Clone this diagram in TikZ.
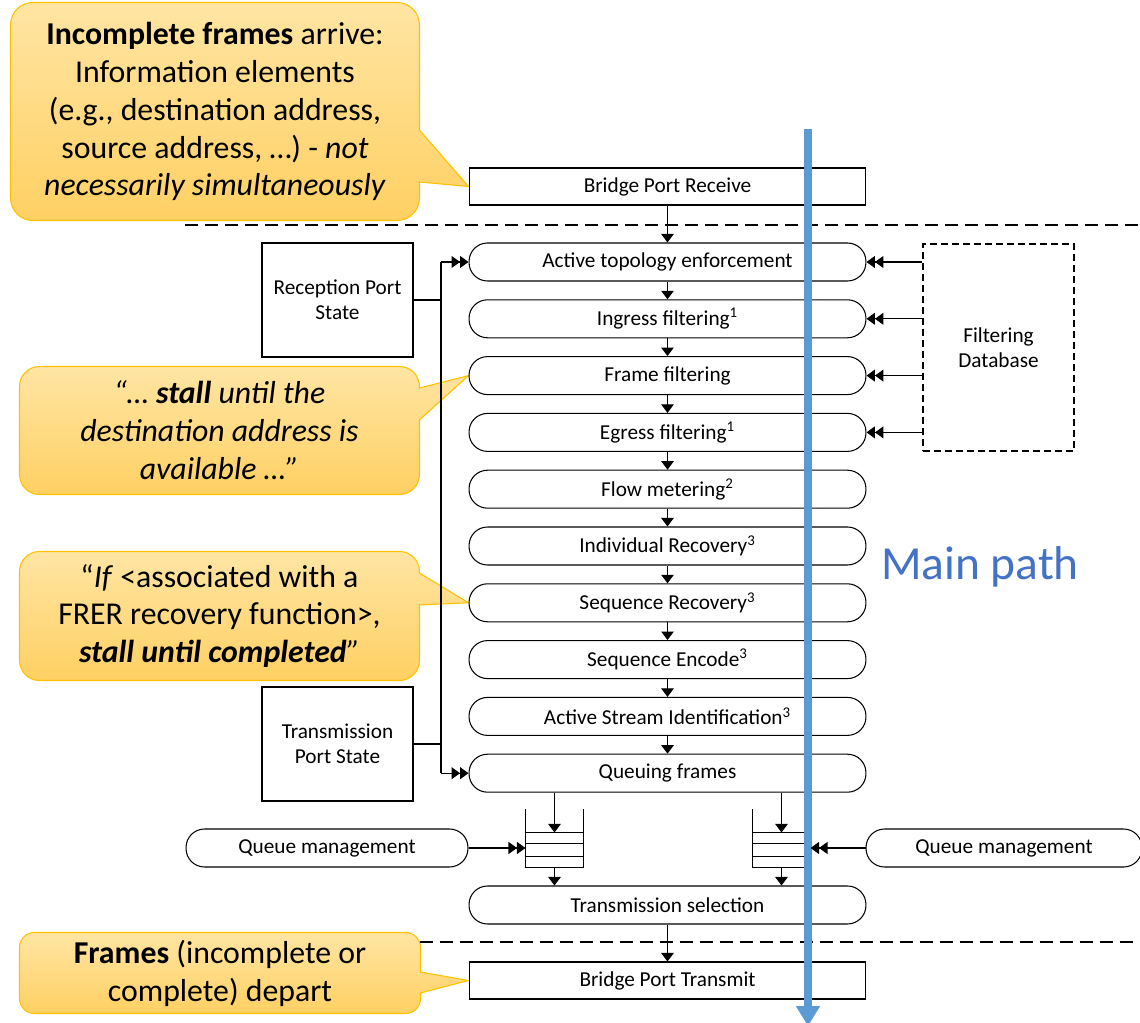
\documentclass[tikz,border=0pt]{standalone}
\usepackage{fontspec}
\setmainfont{Carlito}
\usetikzlibrary{arrows.meta,calc}
\pgfdeclarelayer{background}
\pgfsetlayers{background,main}

\definecolor{callouttop}{HTML}{FFE5A3}
\definecolor{calloutbot}{HTML}{FFD063}
\definecolor{calloutline}{HTML}{FFC000}
\definecolor{pathblue}{HTML}{5B9BD5}
\definecolor{pathtext}{HTML}{4472C4}

\newcommand{\boxfont}{\fontsize{12.1}{14.4}\selectfont}
\newcommand{\notefont}{\fontsize{18.1}{21.6}\selectfont}

\tikzstyle{procbox}=[draw, rounded corners=3.7mm, minimum width=79.4mm, minimum height=7.6mm, inner sep=0pt, font=\boxfont]
\tikzstyle{portbox}=[draw, minimum width=79.4mm, minimum height=7.4mm, inner sep=0pt, font=\boxfont]
\tikzstyle{statebox}=[draw, minimum width=30.2mm, minimum height=22.8mm, inner sep=0pt, align=center, font=\boxfont]
\tikzstyle{qmbox}=[procbox, minimum width=56.4mm]
\tikzstyle{queue}=[minimum width=11.4mm, minimum height=6.8mm, inner sep=0pt]
\tikzstyle{queueline}=[draw=black, line width=0.8pt]
\tikzstyle{note}=[align=center, font=\notefont, inner sep=0pt]
\tikzstyle{notebody}=[draw=calloutline, line width=0.6pt, top color=callouttop, bottom color=calloutbot]
\tikzstyle{arrow}=[draw=black, -{Triangle[length=1.7mm,width=2.5mm]}]
\tikzstyle{dblarrow}=[draw=black, -{Triangle[length=1.7mm,width=2.4mm]Triangle[length=1.7mm,width=2.4mm]}]
\tikzstyle{cutline}=[draw=black, line width=0.8pt, dash pattern=on 2.6mm off 1.4mm]
\tikzstyle{mainpath}=[draw=pathblue, line width=4pt, -{Triangle[length=4mm,width=4.6mm]}]

\begin{document}
\begin{tikzpicture}[x=0.02cm, y=-0.02cm, line width=0.6pt]
	\useasboundingbox (0,0) rectangle (1140,1023);
	\begin{scope}
		% main chain
		\node (rx) at (667.5,186.5) [portbox] {Bridge Port Receive};
		\node (ate) at (667.5,262) [procbox] {Active topology enforcement};
		\node (ingr) at (667.5,318.8) [procbox] {Ingress filtering\textsuperscript{1}};
		\node (ff) at (667.5,375.6) [procbox] {Frame filtering};
		\node (egr) at (667.5,432.4) [procbox] {Egress filtering\textsuperscript{1}};
		\node (fm) at (667.5,489.2) [procbox] {Flow metering\textsuperscript{2}};
		\node (ir) at (667.5,546) [procbox] {Individual Recovery\textsuperscript{3}};
		\node (sr) at (667.5,602.8) [procbox] {Sequence Recovery\textsuperscript{3}};
		\node (se) at (667.5,659.6) [procbox] {Sequence Encode\textsuperscript{3}};
		\node (asi) at (667.5,716.4) [procbox] {Active Stream Identification\textsuperscript{3}};
		\node (qf) at (667.5,773.2) [procbox] {Queuing frames};
		\node (ts) at (667.5,905) [procbox] {Transmission selection};
		\node (tx) at (667.5,980.5) [portbox] {Bridge Port Transmit};

		\node (rps) at (337.5,300) [statebox] {Reception Port\\State};
		\node (tps) at (337.5,744) [statebox] {Transmission\\Port State};
		\node (fdb) at (998.5,347.5) [statebox, minimum height=41.4mm, dash pattern=on 1.4mm off 0.8mm] {Filtering\\Database};

		\node (qm1) at (327,848) [qmbox] {Queue management};
		\node (qm2) at (1004,848) [qmbox, minimum width=55.2mm] {Queue management};
		\node (q1) at (554.5,850) [queue] {};
		\node (q2) at (781.5,850) [queue] {};

		\node (mp) at (980,567) [text=pathtext, font=\fontsize{27}{32}\selectfont] {Main path};

		% callouts
		\node (n1) at (215,111.5) [note, minimum width=81.6mm, minimum height=43.4mm] {\textbf{Incomplete frames} arrive:\\Information elements\\(e.g., destination address,\\source address, …) - \textit{not}\\\textit{necessarily simultaneously}};
		\node (n2) at (219.5,430.5) [note, minimum width=79.8mm, minimum height=25.4mm, font=\notefont\itshape] {“… \textbf{stall} until the\\destination address is\\available …”};
		\node (n3) at (219.5,616) [note, minimum width=79.8mm, minimum height=25.6mm] {“\textit{If} <associated with a\\FRER recovery function>,\\\textit{\textbf{stall until completed}”}};
		\node (n4) at (220,973) [note, minimum width=80mm, minimum height=16mm] {\textbf{Frames} (incomplete or\\complete) depart};

		\coordinate (bt) at (441,262);
		\coordinate (bb) at (441,773.2);
		\coordinate (mtop) at (808,129);
		\coordinate (mbot) at (808,1026);
	\end{scope}
	\begin{scope}
		\draw[cutline] (185,225) -- (1140,225);
		\draw[cutline] (420,942) -- (1140,942);

		\foreach \a/\b in {rx/ate,ate/ingr,ingr/ff,ff/egr,egr/fm,fm/ir,ir/sr,sr/se,se/asi,asi/qf,ts/tx}
			\path [arrow] (\a) edge (\b);

		\draw (bt) -- (bb);
		\draw (rps.east) -- (rps.east -| bt);
		\draw (tps.east) -- (tps.east -| bb);
		\draw[dblarrow] (bt) -- (ate.west);
		\draw[dblarrow] (bb) -- (qf.west);

		\foreach \n in {ate,ingr,ff,egr}
			\draw[dblarrow] (\n.east -| fdb.west) -- (\n.east);

		\foreach \q in {q1,q2} {
			\draw[queueline] ([yshift=4.6mm]\q.north west) -- (\q.south west) -- (\q.south east) -- ([yshift=4.6mm]\q.north east);
			\foreach \f in {0,0.32,0.68}
				\draw[queueline] ($(\q.north west)!\f!(\q.south west)$) -- ($(\q.north east)!\f!(\q.south east)$);
			\draw[arrow] (qf.south -| \q) -- (\q.north);
			\draw[arrow] (\q.south) -- (ts.north -| \q);
		}
		\draw[dblarrow] (qm1.east) -- (qm1.east -| q1.west);

		\draw[mainpath] (mtop) -- (mbot);
		\draw[dblarrow] (qm2.west) -- (qm2.west -| q2.east);
	\end{scope}
	\begin{pgfonlayer}{background}
		\draw[notebody] (n1.north) [rounded corners=4.5mm] -- (n1.north east) [sharp corners] -- (n1.east |- 0,130) -- (rx.west) -- (n1.east |- 0,182) [rounded corners=4.5mm] -- (n1.south east) -- (n1.south west) -- (n1.north west) -- cycle;
		\draw[notebody] (n2.north) [rounded corners=4mm] -- (n2.north east) [sharp corners] -- (n2.east |- 0,388) -- (ff.west) -- (n2.east |- 0,420) [rounded corners=4mm] -- (n2.south east) -- (n2.south west) -- (n2.north west) -- cycle;
		\draw[notebody] (n3.north) [rounded corners=4mm] -- (n3.north east) [sharp corners] -- (n3.east |- 0,573) -- (sr.west) -- (n3.east |- 0,605) [rounded corners=4mm] -- (n3.south east) -- (n3.south west) -- (n3.north west) -- cycle;
		\draw[notebody] (n4.north) [rounded corners=3mm] -- (n4.north east) [sharp corners] -- (n4.east |- 0,972) -- (tx.west) -- (n4.east |- 0,993) [rounded corners=3mm] -- (n4.south east) -- (n4.south west) -- (n4.north west) -- cycle;
	\end{pgfonlayer}
\end{tikzpicture}
\end{document}
